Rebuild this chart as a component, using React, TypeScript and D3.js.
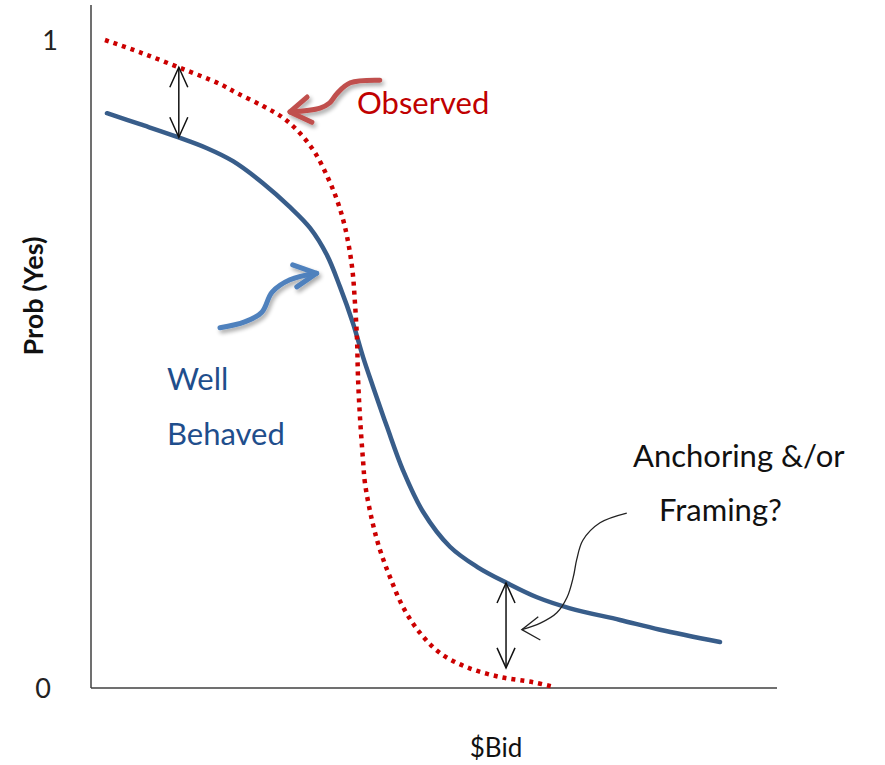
import React from "react";
import * as d3 from "d3";

// Data (x = bid on 0..100 scale, y = probability)
const observedX = [2.04, 7.14, 12.97, 18.8, 21.28, 25.07, 27.99, 30.47, 32.65, 34.55, 35.86, 37.03, 38.05, 38.48, 38.78, 38.92, 39.21, 39.65, 39.94, 40.96, 42.13, 43.59, 45.48, 47.96, 50.87, 54.81, 59.62, 64.43, 67.35];
const observedY = [1.0, 0.981, 0.957, 0.932, 0.918, 0.898, 0.88, 0.856, 0.826, 0.787, 0.753, 0.711, 0.65, 0.594, 0.537, 0.48, 0.418, 0.352, 0.316, 0.259, 0.213, 0.171, 0.125, 0.085, 0.054, 0.032, 0.017, 0.009, 0.002];
const wellX = [2.33, 7.14, 12.68, 16.91, 20.7, 25.07, 29.01, 31.92, 34.4, 36.3, 38.19, 39.65, 41.11, 43.15, 45.48, 48.4, 52.33, 56.27, 60.64, 65.01, 69.83, 77.11, 82.94, 91.69];
const wellY = [0.887, 0.87, 0.85, 0.833, 0.813, 0.779, 0.742, 0.71, 0.668, 0.619, 0.563, 0.511, 0.465, 0.403, 0.336, 0.272, 0.218, 0.187, 0.162, 0.14, 0.123, 0.105, 0.09, 0.071];
const yTicks = [0, 1];

// Annotation arrows (data units)
const gapArrows: [number, number, number][] = [
  [12.8, 0.958, 0.85],
  [60.5, 0.162, 0.031],
];
const redArrow: [number, number][] = [[42.1, 0.938], [37.8, 0.934], [35.9, 0.918], [34.8, 0.903], [33.4, 0.895], [29.0, 0.889]];
const redArms: [number, number][] = [[31.5, 0.912], [29.0, 0.889], [32.2, 0.873]];
const blueArrow: [number, number][] = [[18.8, 0.556], [22.4, 0.565], [24.9, 0.58], [26.4, 0.611], [29.0, 0.63], [32.9, 0.64]];
const blueArms: [number, number][] = [[29.4, 0.653], [32.9, 0.64], [30.0, 0.619]];
const blackArrow: [number, number][] = [[78.1, 0.27], [74.2, 0.255], [71.7, 0.228], [70.8, 0.198], [70.3, 0.171], [69.4, 0.14], [67.9, 0.116], [65.5, 0.1], [62.8, 0.09]];
const blackArms: [number, number][] = [[65.2, 0.11], [62.8, 0.09], [65.5, 0.074]];

const W = 885;
const H = 765;
const FONT = "Lato, 'Open Sans', sans-serif";

export default function App() {
  const x = d3.scaleLinear().domain([0, 100]).range([91, 777]);
  const y = d3.scaleLinear().domain([0, 1]).range([688, 40]);

  const curve = d3
    .line<[number, number]>()
    .x((d) => x(d[0]))
    .y((d) => y(d[1]))
    .curve(d3.curveCatmullRom.alpha(0.5));
  const straight = d3
    .line<[number, number]>()
    .x((d) => x(d[0]))
    .y((d) => y(d[1]));

  const observed = observedX.map((v, i) => [v, observedY[i]] as [number, number]);
  const well = wellX.map((v, i) => [v, wellY[i]] as [number, number]);

  const head = 9;

  return (
    <svg width={W} height={H} style={{ position: "absolute", left: 0, top: 0, background: "#fff" }}>
      <defs>
        <filter id="sh" x="-20%" y="-20%" width="140%" height="140%">
          <feGaussianBlur in="SourceAlpha" stdDeviation="2" />
          <feOffset dx="2" dy="3" result="b" />
          <feComponentTransfer>
            <feFuncA type="linear" slope="0.35" />
          </feComponentTransfer>
          <feMerge>
            <feMergeNode />
            <feMergeNode in="SourceGraphic" />
          </feMerge>
        </filter>
      </defs>
      {/* axes */}
      <line x1={x(0)} x2={x(0)} y1={5} y2={y(0)} stroke="#404040" strokeWidth={1.5} />
      <line x1={x(0)} x2={x(100)} y1={y(0)} y2={y(0)} stroke="#404040" strokeWidth={1.5} />
      {yTicks.map((t) => (
        <text key={t} x={t === 1 ? 58 : 51} y={y(t) + 10} textAnchor="end" fontFamily={FONT} fontSize={27} fill="#222">
          {t}
        </text>
      ))}
      <text
        transform={`translate(43,296) rotate(-90)`}
        textAnchor="middle"
        fontFamily={FONT}
        fontWeight="bold"
        fontSize={27}
        fill="#111"
      >
        Prob (Yes)
      </text>
      <text x={496} y={757} textAnchor="middle" fontFamily={FONT} fontSize={26} fill="#111">
        $Bid
      </text>

      {/* curves */}
      <path d={curve(well) || ""} fill="none" stroke="#385d8a" strokeWidth={4.5} strokeLinecap="round" />
      <path d={curve(observed) || ""} fill="none" stroke="#cc0000" strokeWidth={4.5} strokeDasharray="4 5" />

      {/* gap double arrows */}
      {gapArrows.map(([gx, top, bot], i) => {
        const px = x(gx);
        const t = y(top);
        const b = y(bot);
        return (
          <g key={i} stroke="#111" strokeWidth={1.5} fill="none">
            <line x1={px} x2={px} y1={t} y2={b} />
            <polyline points={`${px - head},${t + 20} ${px},${t} ${px + head},${t + 20}`} />
            <polyline points={`${px - head},${b - 20} ${px},${b} ${px + head},${b - 20}`} />
          </g>
        );
      })}

      {/* callout arrows */}
      <g filter="url(#sh)" fill="none" strokeLinecap="round" strokeLinejoin="round">
        <path d={curve(redArrow) || ""} stroke="#c0504d" strokeWidth={5} />
        <path d={straight(redArms) || ""} stroke="#c0504d" strokeWidth={5} />
        <path d={curve(blueArrow) || ""} stroke="#4f81bd" strokeWidth={5} />
        <path d={straight(blueArms) || ""} stroke="#4f81bd" strokeWidth={5} />
      </g>
      <g fill="none" stroke="#222" strokeWidth={1.3}>
        <path d={curve(blackArrow) || ""} />
        <path d={straight(blackArms) || ""} />
      </g>

      {/* labels */}
      <text x={357} y={114} fontFamily={FONT} fontSize={31} fill="#c00000">
        Observed
      </text>
      <text x={167} y={390} fontFamily={FONT} fontSize={31} fill="#1f4e8c">
        Well
      </text>
      <text x={167} y={445} fontFamily={FONT} fontSize={31} fill="#1f4e8c">
        Behaved
      </text>
      <text x={633} y={467} fontFamily={FONT} fontSize={31} fill="#111">
        Anchoring &amp;/or
      </text>
      <text x={659} y={521} fontFamily={FONT} fontSize={31} fill="#111">
        Framing?
      </text>
    </svg>
  );
}
